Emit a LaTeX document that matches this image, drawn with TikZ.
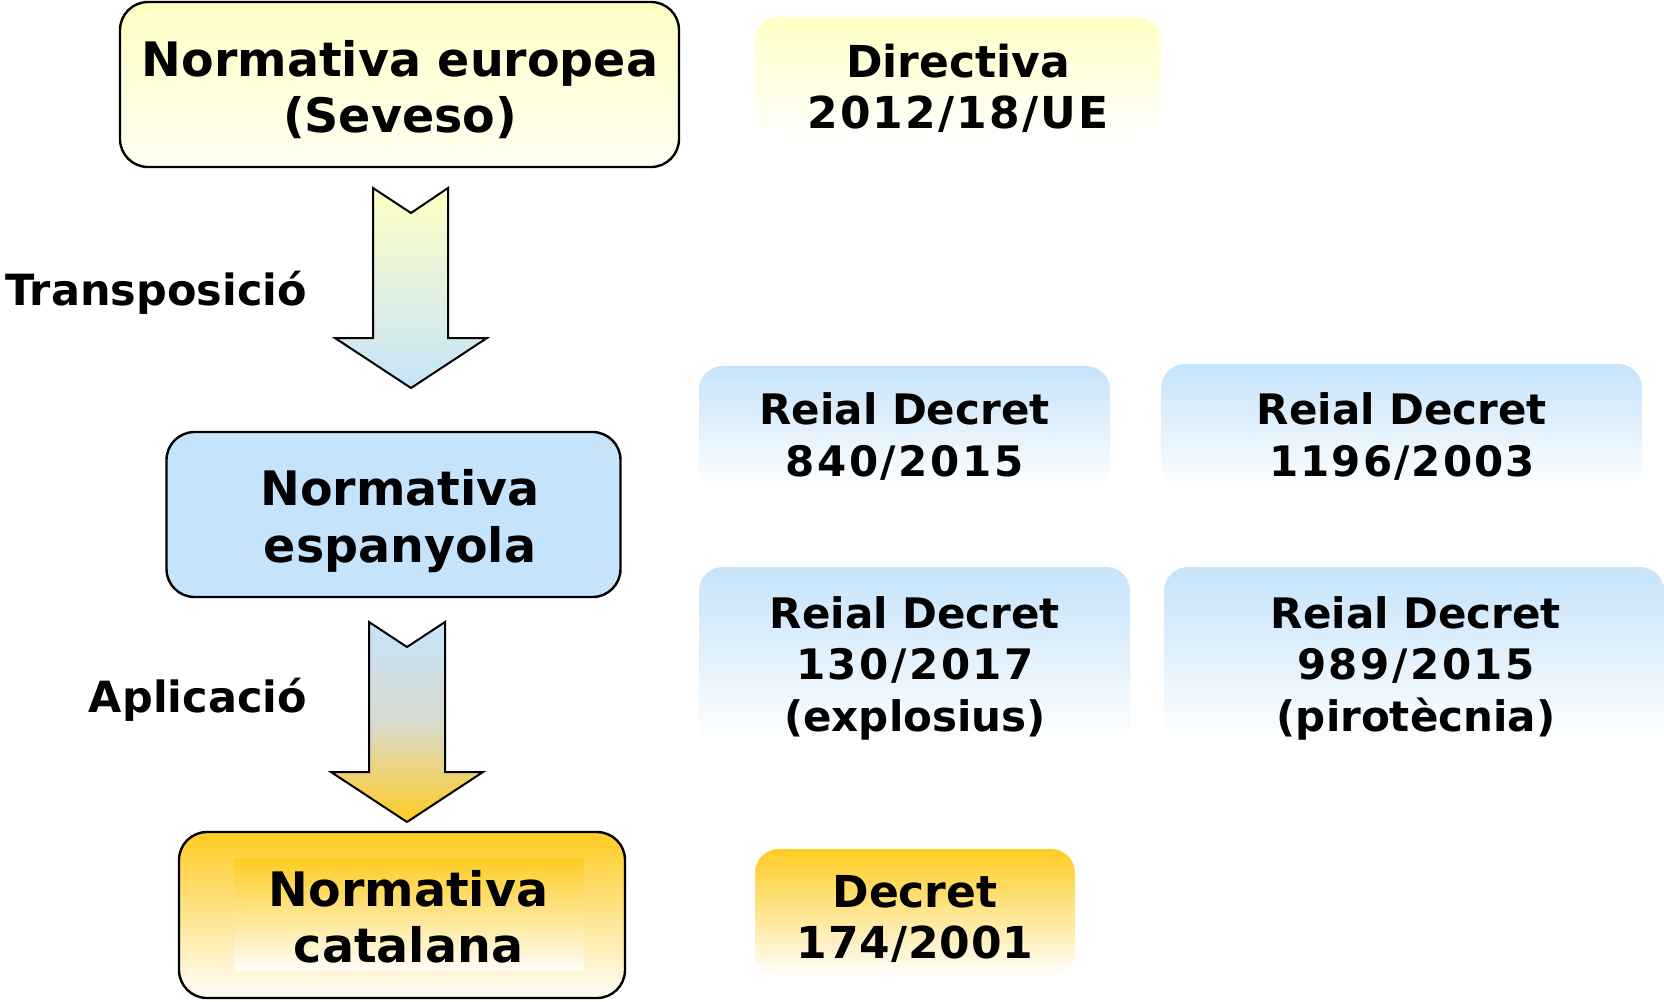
\documentclass[tikz,border=0pt]{standalone}
\usepackage{fontspec}
\setmainfont{DejaVu Sans}
\definecolor{ylw}{RGB}{255,255,196}
\definecolor{ylwpale}{RGB}{255,255,242}
\definecolor{blu}{RGB}{197,227,250}
\definecolor{gld}{RGB}{255,204,34}
\definecolor{gldpale}{RGB}{255,253,248}
\definecolor{midgrey}{RGB}{216,219,208}
\newcommand{\wdig}[2]{{\addfontfeature{LetterSpace=#1}#2}}
\begin{document}
\begin{tikzpicture}[x=1pt,y=-1pt,
  bigbox/.style={rectangle, draw=black, line width=2.4pt, rounded corners=28pt, inner sep=0pt},
  lightbox/.style={rectangle, rounded corners=24pt, inner sep=0pt, bottom color=white},
  bigtext/.style={anchor=base, inner sep=0pt, font=\bfseries\fontsize{47.5}{56.5}\selectfont},
  midtext/.style={anchor=base, inner sep=0pt, font=\bfseries\fontsize{44}{51}\selectfont},
  rdtext/.style={anchor=base, inner sep=0pt, font=\bfseries\fontsize{42}{51.5}\selectfont},
  labeltext/.style={anchor=base east, inner sep=0pt, font=\bfseries\fontsize{43}{50}\selectfont},
  blockarrow/.style={draw=black, line width=2pt, line join=miter}]
\fill[white] (0,0) rectangle (1664,1001);
\useasboundingbox (0,0) rectangle (1664,1001);

% main boxes
\node[bigbox, top color=ylw, bottom color=ylwpale, minimum width=559pt, minimum height=165pt] (eu) at (399.5,84.5) {};
\node[bigbox, fill=blu, minimum width=454pt, minimum height=165pt] (es) at (393.5,514.5) {};
\node[bigbox, top color=gld, bottom color=gldpale, minimum width=446pt, minimum height=166pt] (ca) at (402,915) {};
\fill[top color=gld, bottom color=gldpale] (234,858) rectangle (584,970);

% light boxes
\node[lightbox, top color=ylw, minimum width=406pt, minimum height=123pt] (dirbox) at (958,78.5) {};
\node[lightbox, top color=blu, minimum width=411pt, minimum height=124pt] (rdabox) at (904.5,428) {};
\node[lightbox, top color=blu, minimum width=481pt, minimum height=126pt] (rdbbox) at (1401.5,427) {};
\node[lightbox, top color=blu, minimum width=431pt, minimum height=178pt] (rdcbox) at (914.5,656) {};
\node[lightbox, top color=blu, minimum width=500pt, minimum height=178pt] (rddbox) at (1414,656) {};
\node[lightbox, top color=gld, minimum width=320pt, minimum height=128pt] (decbox) at (915,913) {};

% texts
\node[bigtext] (teu) at (400,76) {\begin{tabular}[t]{@{}c@{}}Normativa europea\\(Seveso)\end{tabular}};
\node[bigtext] (tes) at (400,505.5) {\begin{tabular}[t]{@{}c@{}}Normativa\\espanyola\end{tabular}};
\node[bigtext] (tca) at (408.5,906) {\begin{tabular}[t]{@{}c@{}}Normativa\\catalana\end{tabular}};
\node[midtext] (tdir) at (958,77) {\begin{tabular}[t]{@{}c@{}}Directiva\\\wdig{5}{2012/18/UE}\end{tabular}};
\node[rdtext] (trda) at (904.5,424.5) {\begin{tabular}[t]{@{}c@{}}Reial Decret\\\wdig{6}{840/2015}\end{tabular}};
\node[rdtext] (trdb) at (1402,424.5) {\begin{tabular}[t]{@{}c@{}}Reial Decret\\\wdig{5}{1196/2003}\end{tabular}};
\node[rdtext] (trdc) at (915,628) {\begin{tabular}[t]{@{}c@{}}Reial Decret\\\wdig{6}{130/2017}\\(explosius)\end{tabular}};
\node[rdtext] (trdd) at (1416,628) {\begin{tabular}[t]{@{}c@{}}Reial Decret\\\wdig{6}{989/2015}\\(pirotècnia)\end{tabular}};
\node[midtext] (tdec) at (915,907) {\begin{tabular}[t]{@{}c@{}}Decret\\\wdig{2}{174/2001}\end{tabular}};

\node[labeltext] (ltr) at (307,305) {Transposició};
\node[labeltext] (lap) at (307,712) {Aplicació};

% block arrows
\draw[blockarrow, top color=ylw, bottom color=blu]
  (373,188) -- (411,213) -- (448,188) -- (448,338) -- (487,338) -- (411,388) -- (335,338) -- (373,338) -- cycle;
\draw[blockarrow, top color=blu, bottom color=gld, middle color=midgrey]
  (369,622) -- (407,647) -- (445,622) -- (445,772) -- (483,772) -- (407,822) -- (331,772) -- (369,772) -- cycle;
\end{tikzpicture}
\end{document}
